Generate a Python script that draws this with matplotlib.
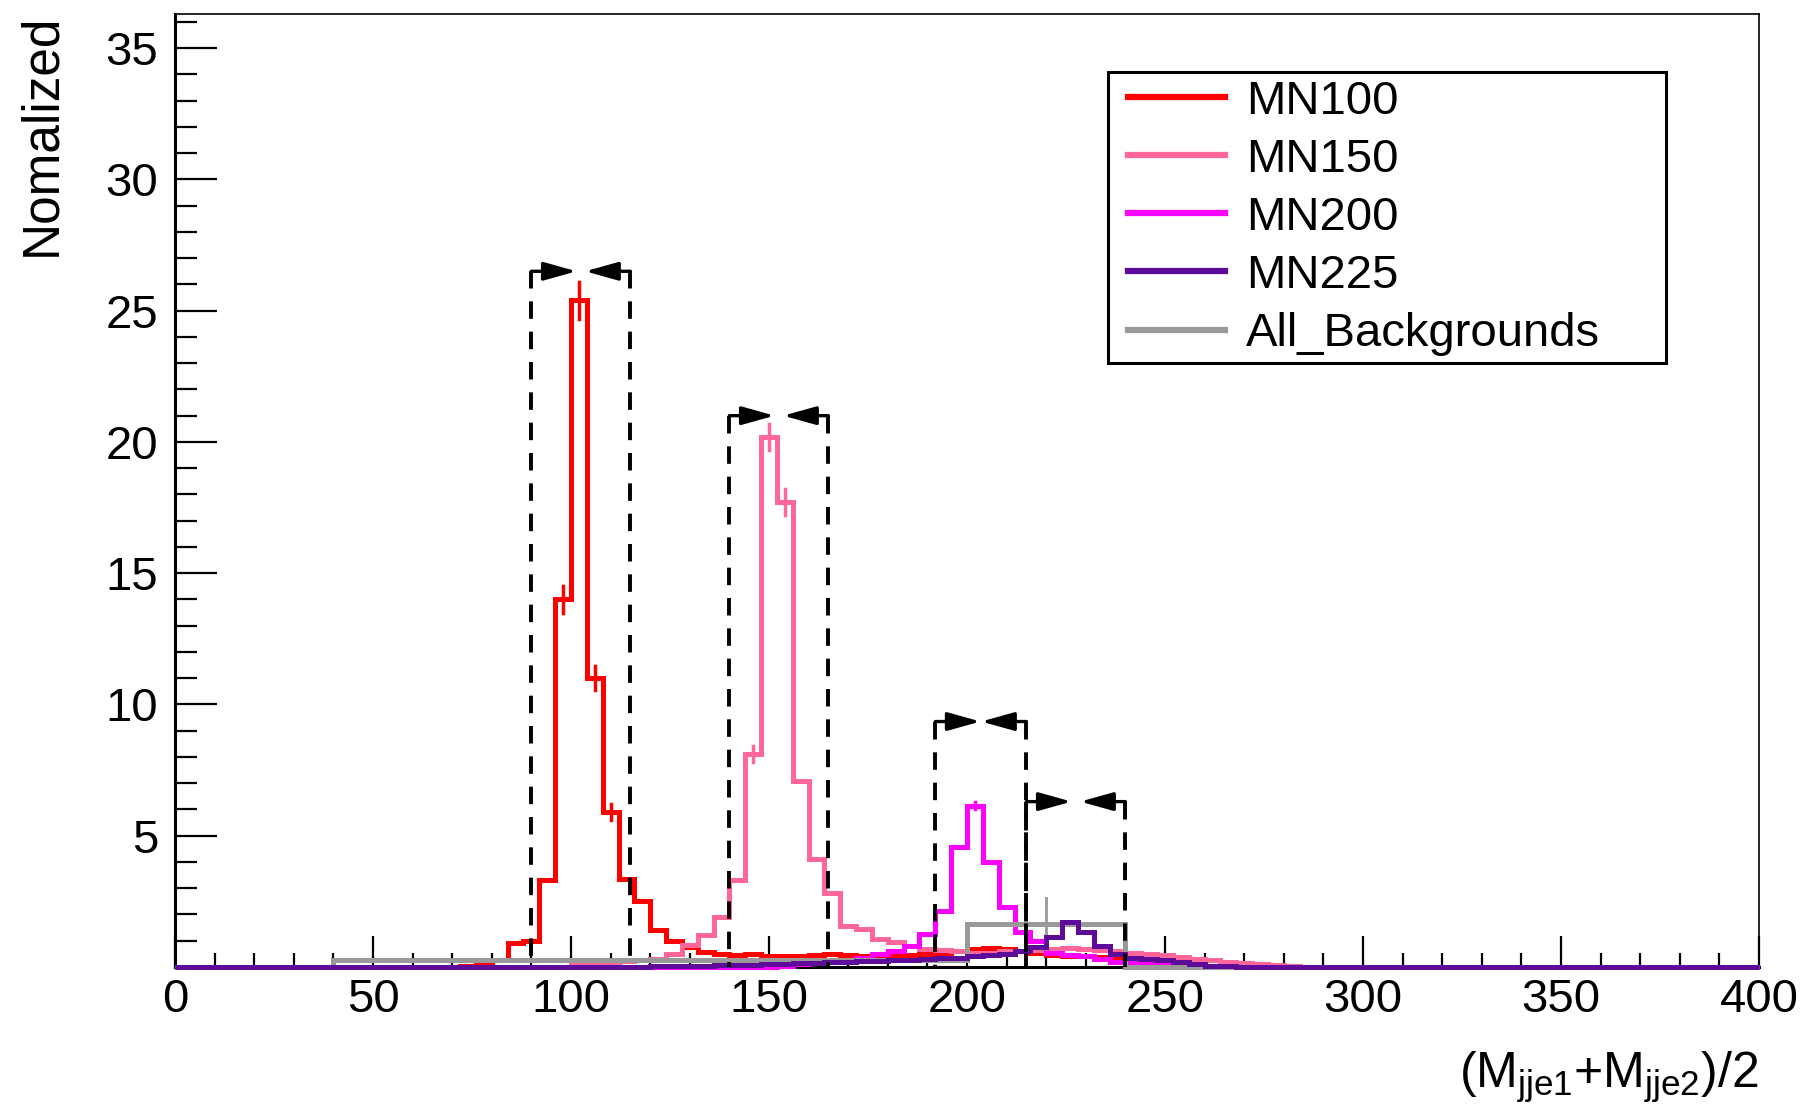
import numpy as np
import matplotlib.pyplot as plt
from matplotlib.lines import Line2D
from matplotlib.patches import Rectangle

plt.rcParams['font.family'] = ['Liberation Sans', 'DejaVu Sans']
plt.rcParams['mathtext.fontset'] = 'custom'
plt.rcParams['mathtext.rm'] = 'Liberation Sans'
plt.rcParams['mathtext.it'] = 'Liberation Sans'

# histogram binning: 100 bins of width 4 between 0 and 400
edges = np.arange(0, 401, 4)

# signal shapes, read bin by bin (first bin low edge given)
mn100_start = 72
mn100 = [0.05, 0.1, 0.28, 0.9, 1.0, 3.3, 14.0, 25.4, 11.0, 5.9, 3.35, 2.5, 1.4,
         1.0, 0.76, 0.57, 0.5, 0.44, 0.5, 0.42, 0.4, 0.42, 0.45, 0.5, 0.45, 0.4,
         0.42, 0.45, 0.45, 0.5, 0.55, 0.62, 0.68, 0.72, 0.7, 0.6, 0.55, 0.45,
         0.42, 0.4, 0.38, 0.35, 0.28, 0.22, 0.18, 0.12, 0.08, 0.05, 0.03]

mn150_start = 100
mn150 = [0.1, 0.15, 0.18, 0.22, 0.25, 0.3, 0.5, 0.83, 1.2, 1.9, 3.3, 8.1, 20.2,
         17.7, 7.1, 4.1, 2.8, 1.55, 1.45, 1.05, 0.95, 0.8, 0.7, 0.65, 0.6, 0.55,
         0.55, 0.6, 0.6, 0.65, 0.7, 0.72, 0.7, 0.65, 0.6, 0.55, 0.5, 0.45, 0.38,
         0.3, 0.25, 0.2, 0.15, 0.1, 0.07, 0.04]

mn200_start = 152
mn200 = [0.05, 0.1, 0.15, 0.2, 0.25, 0.35, 0.5, 0.6, 0.8, 1.25, 2.15, 4.57,
         6.15, 4.0, 2.3, 1.33, 1.0, 0.55, 0.45, 0.4, 0.3, 0.2, 0.15, 0.1, 0.06]

mn225_start = 120
mn225 = [0.02, 0.03, 0.04, 0.05, 0.06, 0.07, 0.08, 0.1, 0.12, 0.14, 0.16, 0.18,
         0.2, 0.22, 0.24, 0.26, 0.28, 0.3, 0.33, 0.36, 0.4, 0.45, 0.5, 0.6, 0.75,
         1.15, 1.7, 1.35, 0.8, 0.5, 0.33, 0.3, 0.25, 0.18, 0.1, 0.05, 0.03]

# small error bars visible on the signal peaks: (x centre, value, error)
peak_err_x = [98, 102, 106, 110, 146, 150, 154, 202]
peak_err_y = [14.0, 25.4, 11.0, 5.9, 8.1, 20.2, 17.7, 6.15]
peak_err = [0.5, 0.7, 0.45, 0.3, 0.3, 0.5, 0.5, 0.15]
peak_err_c = ['#ff0000'] * 4 + ['#ff6699'] * 3 + ['#ff00ff']

# background: coarse variable binning
bg_edges = [0, 40, 200, 240, 400]
bg_vals = [0.0, 0.25, 1.65, 0.0]
bg_err_x = 220
bg_err = 0.97

# mass windows: low edge, high edge, arrow height
win_lo = [90, 140, 192, 215]
win_hi = [115, 165, 215, 240]
win_top = [26.5, 21.0, 9.35, 6.3]

labels = ['MN100', 'MN150', 'MN200', 'MN225', 'All_Backgrounds']
colors = ['#ff0000', '#ff6699', '#ff00ff', '#5c0c98', '#999999']


def fill_bins(start, vals):
    h = np.zeros(len(edges) - 1)
    i0 = start // 4
    h[i0:i0 + len(vals)] = vals
    return h


W, H = 1809, 1108
fig = plt.figure(figsize=(W / 100, H / 100), dpi=100)
ax = fig.add_axes([175 / W, 1 - 967 / H, (1759 - 175) / W, (967 - 14) / H])

lw = 3.6
ax.stairs(fill_bins(mn100_start, mn100), edges, color=colors[0], lw=lw, baseline=None, zorder=3, clip_on=False)
ax.stairs(fill_bins(mn150_start, mn150), edges, color=colors[1], lw=lw, baseline=None, zorder=3, clip_on=False)
ax.stairs(fill_bins(mn200_start, mn200), edges, color=colors[2], lw=lw, baseline=None, zorder=3, clip_on=False)
for xc, yc, e, c in zip(peak_err_x, peak_err_y, peak_err, peak_err_c):
    ax.plot([xc, xc], [yc - e, yc + e], color=c, lw=2.5, zorder=3)
ax.stairs(bg_vals, bg_edges, color=colors[4], lw=lw, baseline=None, zorder=3, clip_on=False)
ax.plot([bg_err_x, bg_err_x], [bg_vals[2] - bg_err, bg_vals[2] + bg_err],
        color=colors[4], lw=2, zorder=3)
ax.stairs(fill_bins(mn225_start, mn225), edges, color=colors[3], lw=lw, baseline=None, zorder=4, clip_on=False)

# selection windows with arrows
arr_len = 11.4
for lo, hi, top in zip(win_lo, win_hi, win_top):
    for xv in (lo, hi):
        ax.plot([xv, xv], [top, 0], color='k', lw=2.8, ls=(0, (4.5, 3.3)), zorder=5)
    for x0, x1 in ((lo, lo + arr_len), (hi, hi - arr_len)):
        ax.annotate('', xy=(x1, top), xytext=(x0, top),
                    arrowprops=dict(arrowstyle='-|>,head_length=0.5,head_width=0.14',
                                    color='k', lw=2.4, shrinkA=0, shrinkB=0,
                                    mutation_scale=40), zorder=5)

ax.set_xlim(0, 400)
ax.set_ylim(0, 36.3)
ax.set_xticks(np.arange(0, 401, 50))
ax.set_xticks(np.arange(0, 401, 10), minor=True)
ax.set_yticks(np.arange(5, 36, 5))
ax.set_yticks(np.arange(1, 37, 1), minor=True)
ax.tick_params(axis='both', which='both', direction='in', width=1.6, color='k',
               labelsize=34)
ax.tick_params(axis='x', which='major', length=22, pad=8)
ax.tick_params(axis='x', which='minor', length=10)
ax.tick_params(axis='y', which='major', length=30, pad=12)
ax.tick_params(axis='y', which='minor', length=16)
ax.spines['left'].set_linewidth(2.2)
ax.spines['bottom'].set_linewidth(2.2)
ax.spines['top'].set_linewidth(1.2)
ax.spines['right'].set_linewidth(1.2)

# legend: box drawn by hand, entries placed inside it
fig.add_artist(Rectangle((1108 / W, 1 - 363 / H), (1666 - 1108) / W, (363 - 72) / H,
                         transform=fig.transFigure, fill=False, ec='k', lw=2.2))
handles = [Line2D([], [], color=c, lw=4.5) for c in colors]
ax.legend(handles, labels, loc='upper left',
          bbox_to_anchor=(1128 / W, 1 - 79.5 / H), bbox_transform=fig.transFigure,
          fontsize=34, frameon=False, borderpad=0, borderaxespad=0,
          labelspacing=0.30, handlelength=2.05, handletextpad=0.45)

fig.text(42 / W, 1 - 14 / H, 'Nomalized', rotation=90, ha='center', va='top',
         fontsize=37)
fig.text(1759 / W, 1 - 1088 / H, r'(M$_{\mathrm{jje1}}$+M$_{\mathrm{jje2}}$)/2',
         ha='right', va='baseline', fontsize=36)

fig.savefig('out.png', dpi=100)
